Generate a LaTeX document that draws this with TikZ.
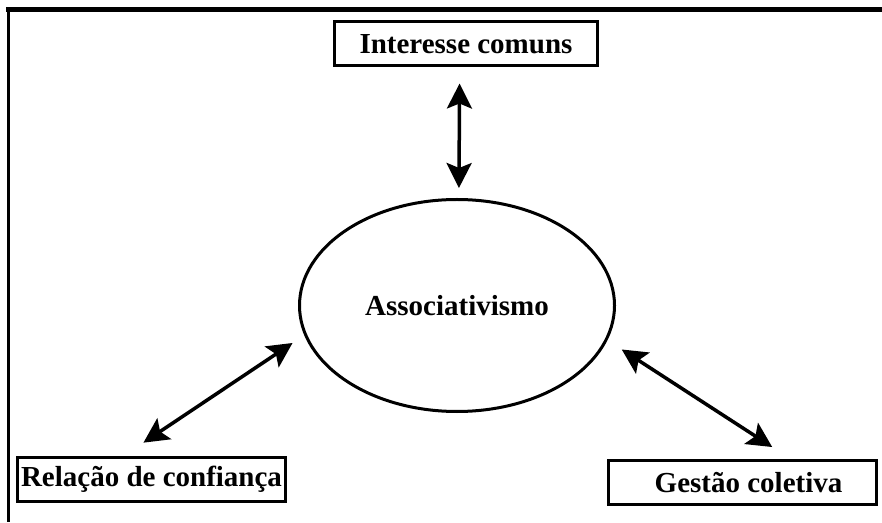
\documentclass[tikz,border=0pt]{standalone}
\usepackage{fontspec}
\setmainfont{Liberation Serif}
\usetikzlibrary{arrows.meta, shapes, positioning}

\begin{document}
\begin{tikzpicture}[x=1pt,y=1pt,>={Stealth[length=25pt,width=25pt,inset=5pt]},
 label font/.style={font=\fontsize{29}{34}\selectfont\bfseries},
 box node/.style={rectangle,draw,line width=3pt,inner sep=0pt,minimum height=44pt,label font},
 main node/.style={ellipse,draw,line width=3pt,inner sep=0pt,minimum width=315pt,minimum height=212pt,label font}]

  \useasboundingbox (0,0) rectangle (882,522);
  \draw[line width=5pt] (6,512) -- (882,512);
  \draw[line width=3pt] (8,512) -- (8,0);

  \node[main node] (assoc) at (457,216.5) {Associativismo};
  \node[box node, minimum width=263pt] (interesse) at (466,478) {Interesse comuns};
  \node[box node, minimum width=268pt] (relacao) at (151.5,42.5) {Relação de confiança};
  \node[box node, minimum width=268pt] (gestao) at (742.5,39.5) {\hspace*{12pt}Gestão coletiva};

  \foreach \s/\t/\i/\o in {assoc.89/interesse.-105/10/16, assoc.191/relacao.140/14/24, assoc.347/gestao.26/17/22} {
   \path[draw, <->, line width=3.5pt, shorten <=\i pt, shorten >=\o pt] (\s) -- (\t);}
\end{tikzpicture}
\end{document}
